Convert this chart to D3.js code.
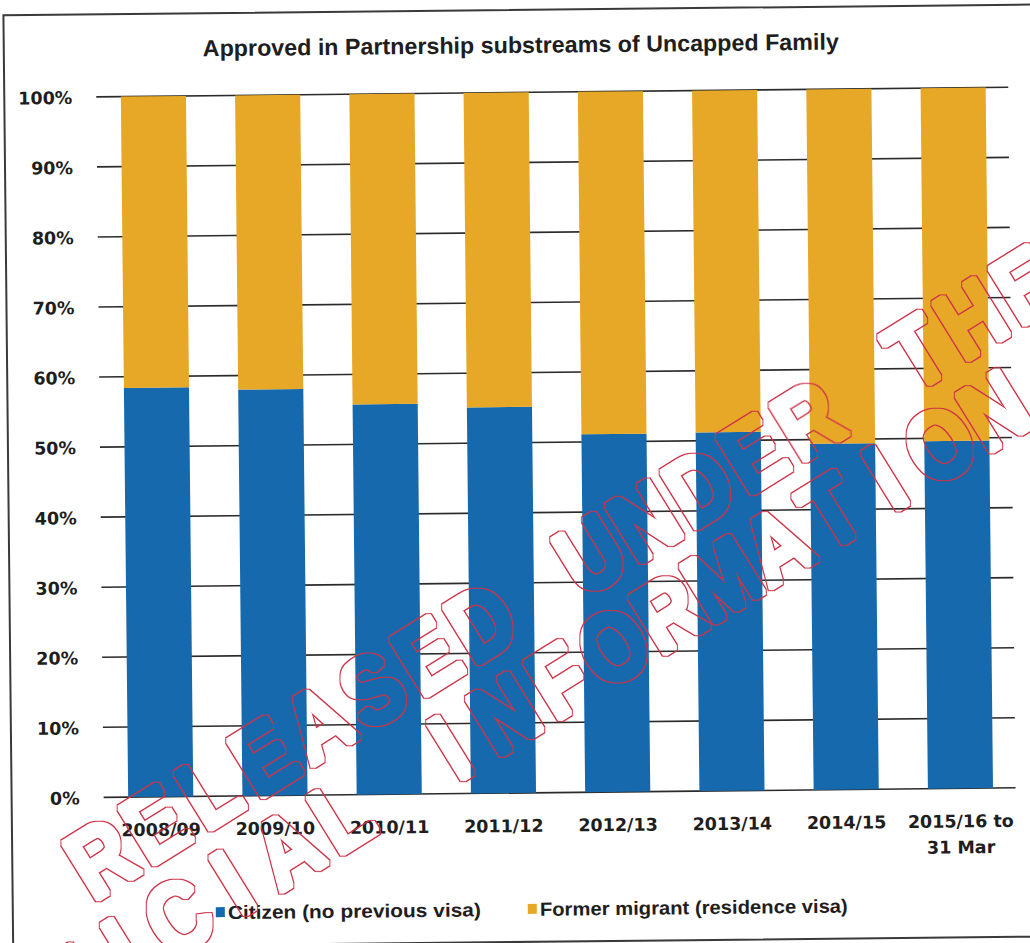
<!DOCTYPE html>
<html>
<head>
<meta charset="utf-8">
<script src="https://cdn.jsdelivr.net/npm/d3@7"></script>
<style>
  html, body { margin: 0; padding: 0; background: #ffffff; }
  svg { display: block; }
</style>
</head>
<body>
<svg id="chart" width="1030" height="943"></svg>
<script>
// Financial years shown on the category axis (multi-line labels split on "\n")
const categories = ["2008/09", "2009/10", "2010/11", "2011/12", "2012/13", "2013/14", "2014/15", "2015/16 to\n31 Mar"];
// Share of approvals in each substream (percent of year total)
const citizen = [58.4, 58.0, 55.7, 55.1, 51.1, 51.2, 49.4, 49.6];
const formerMigrant = [41.6, 42.0, 44.3, 44.9, 48.9, 48.8, 50.6, 50.4];
const seriesNames = ["Citizen (no previous visa)", "Former migrant (residence visa)"];
const yTicks = [0, 10, 20, 30, 40, 50, 60, 70, 80, 90, 100];
const titleText = "Approved in Partnership substreams of Uncapped Family";
const stampLines = ["RELEASED UNDER THE", "OFFICIAL INFORMATION"];

const colors = ["#1769ad", "#e6a826"];
const ink = "#1e1e1e";
const stampRed = "#cf3347";

const svg = d3.select("#chart");

// outline-only rendering for the stamp: ring around a thickened glyph
const defs = svg.append("defs");
const hollow = defs.append("filter").attr("id", "hollow")
  .attr("filterUnits", "userSpaceOnUse")
  .attr("x", -200).attr("y", -200).attr("width", 1500).attr("height", 1400);
hollow.append("feMorphology").attr("in", "SourceAlpha").attr("operator", "dilate").attr("radius", 3.2).attr("result", "outer");
hollow.append("feMorphology").attr("in", "SourceAlpha").attr("operator", "dilate").attr("radius", 1.6).attr("result", "inner");
hollow.append("feComposite").attr("in", "outer").attr("in2", "inner").attr("operator", "out").attr("result", "ring");
hollow.append("feFlood").attr("flood-color", stampRed).attr("result", "ink");
hollow.append("feComposite").attr("in", "ink").attr("in2", "ring").attr("operator", "in");

// whole sheet sits at a slight tilt
const sheet = svg.append("g").attr("transform", "rotate(-0.6 515 450)");

// frame
sheet.append("rect")
  .attr("x", 8).attr("y", 10).attr("width", 1040).attr("height", 932)
  .attr("fill", "none").attr("stroke", "#3a3a3a").attr("stroke-width", 2);

// title
sheet.append("text")
  .attr("x", 525).attr("y", 53)
  .attr("text-anchor", "middle")
  .attr("font-family", "'Liberation Sans', Arial, sans-serif")
  .attr("font-weight", "bold").attr("font-size", 23)
  .attr("textLength", 636).attr("lengthAdjust", "spacingAndGlyphs")
  .attr("fill", ink)
  .text(titleText);

const rows = categories.map((c, i) => ({ cat: c, citizen: citizen[i], former: formerMigrant[i] }));

const x = d3.scaleBand().domain(categories).range([100, 1014]).paddingInner(0.43).paddingOuter(0.215);
const y = d3.scaleLinear().domain([0, 100]).range([793, 92.5]);

// gridlines
sheet.append("g")
  .selectAll("line").data(yTicks).join("line")
  .attr("x1", 100).attr("x2", 1012)
  .attr("y1", d => y(d)).attr("y2", d => y(d))
  .attr("stroke", "#2b2b2b").attr("stroke-width", 1.6);

// y axis labels
const yAxis = d3.axisLeft(y).tickValues(yTicks).tickFormat(d => d + "%").tickSize(0).tickPadding(0);
const yg = sheet.append("g").attr("transform", "translate(76,0)").call(yAxis);
yg.select(".domain").remove();
yg.selectAll("text")
  .attr("font-family", "'DejaVu Sans', sans-serif")
  .attr("font-weight", "bold").attr("font-size", 17.5)
  .attr("fill", ink).attr("dy", "0.36em");

// stacked bars
const stack = d3.stack().keys(["citizen", "former"]);
const layers = stack(rows);
sheet.append("g")
  .selectAll("g").data(layers).join("g")
  .attr("fill", (d, i) => colors[i])
  .selectAll("rect").data(d => d).join("rect")
  .attr("x", d => x(d.data.cat))
  .attr("width", x.bandwidth())
  .attr("y", d => y(d[1]))
  .attr("height", d => y(d[0]) - y(d[1]));

// category labels
const xAxis = d3.axisBottom(x).tickSize(0).tickPadding(0);
const xg = sheet.append("g").attr("transform", "translate(0,793)").call(xAxis);
xg.select(".domain").remove();
xg.selectAll("text").each(function (d) {
  const t = d3.select(this).text(null)
    .attr("font-family", "'DejaVu Sans', sans-serif")
    .attr("font-weight", "bold").attr("font-size", 17.5)
    .attr("fill", ink).attr("y", 0).attr("dy", null);
  d.split("\n").forEach((line, k) => {
    t.append("tspan").attr("x", 0).attr("y", 39 + k * 26).text(line);
  });
});

// legend
const legendItems = [
  { name: seriesNames[0], color: colors[0], x: 211, w: 253 },
  { name: seriesNames[1], color: colors[1], x: 523, w: 308 }
];
const lg = sheet.append("g").selectAll("g").data(legendItems).join("g")
  .attr("transform", d => `translate(${d.x},916)`);
lg.append("rect").attr("x", 0).attr("y", -12).attr("width", 9).attr("height", 10)
  .attr("fill", d => d.color);
lg.append("text").attr("x", 12).attr("y", 0)
  .attr("font-family", "'Liberation Sans', Arial, sans-serif")
  .attr("font-weight", "bold").attr("font-size", 19)
  .attr("textLength", d => d.w).attr("lengthAdjust", "spacingAndGlyphs")
  .attr("fill", ink)
  .text(d => d.name);

// release stamp: hollow red lettering set on an even pitch along a slanted line
const stampAngle = -31.8;
const pitch = 64;
const ux = Math.cos(stampAngle * Math.PI / 180), uy = Math.sin(stampAngle * Math.PI / 180);
const stampStart = [[100, 857], [-40, 1050]];
const stampChars = [];
stampLines.forEach((line, li) => {
  line.split("").forEach((ch, k) => {
    if (ch === " ") return;
    stampChars.push({
      ch,
      cx: stampStart[li][0] + k * pitch * ux,
      cy: stampStart[li][1] + k * pitch * uy
    });
  });
});
svg.append("g")
  .attr("filter", "url(#hollow)")
  .attr("fill", stampRed)
  .attr("font-family", "'Liberation Sans', Arial, sans-serif")
  .attr("font-weight", "bold").attr("font-size", 97)
  .selectAll("text").data(stampChars).join("text")
  .attr("transform", d => `translate(${d.cx},${d.cy}) rotate(${stampAngle}) scale(0.84,1)`)
  .attr("text-anchor", "middle")
  .attr("y", 35)
  .text(d => d.ch);
</script>
</body>
</html>
